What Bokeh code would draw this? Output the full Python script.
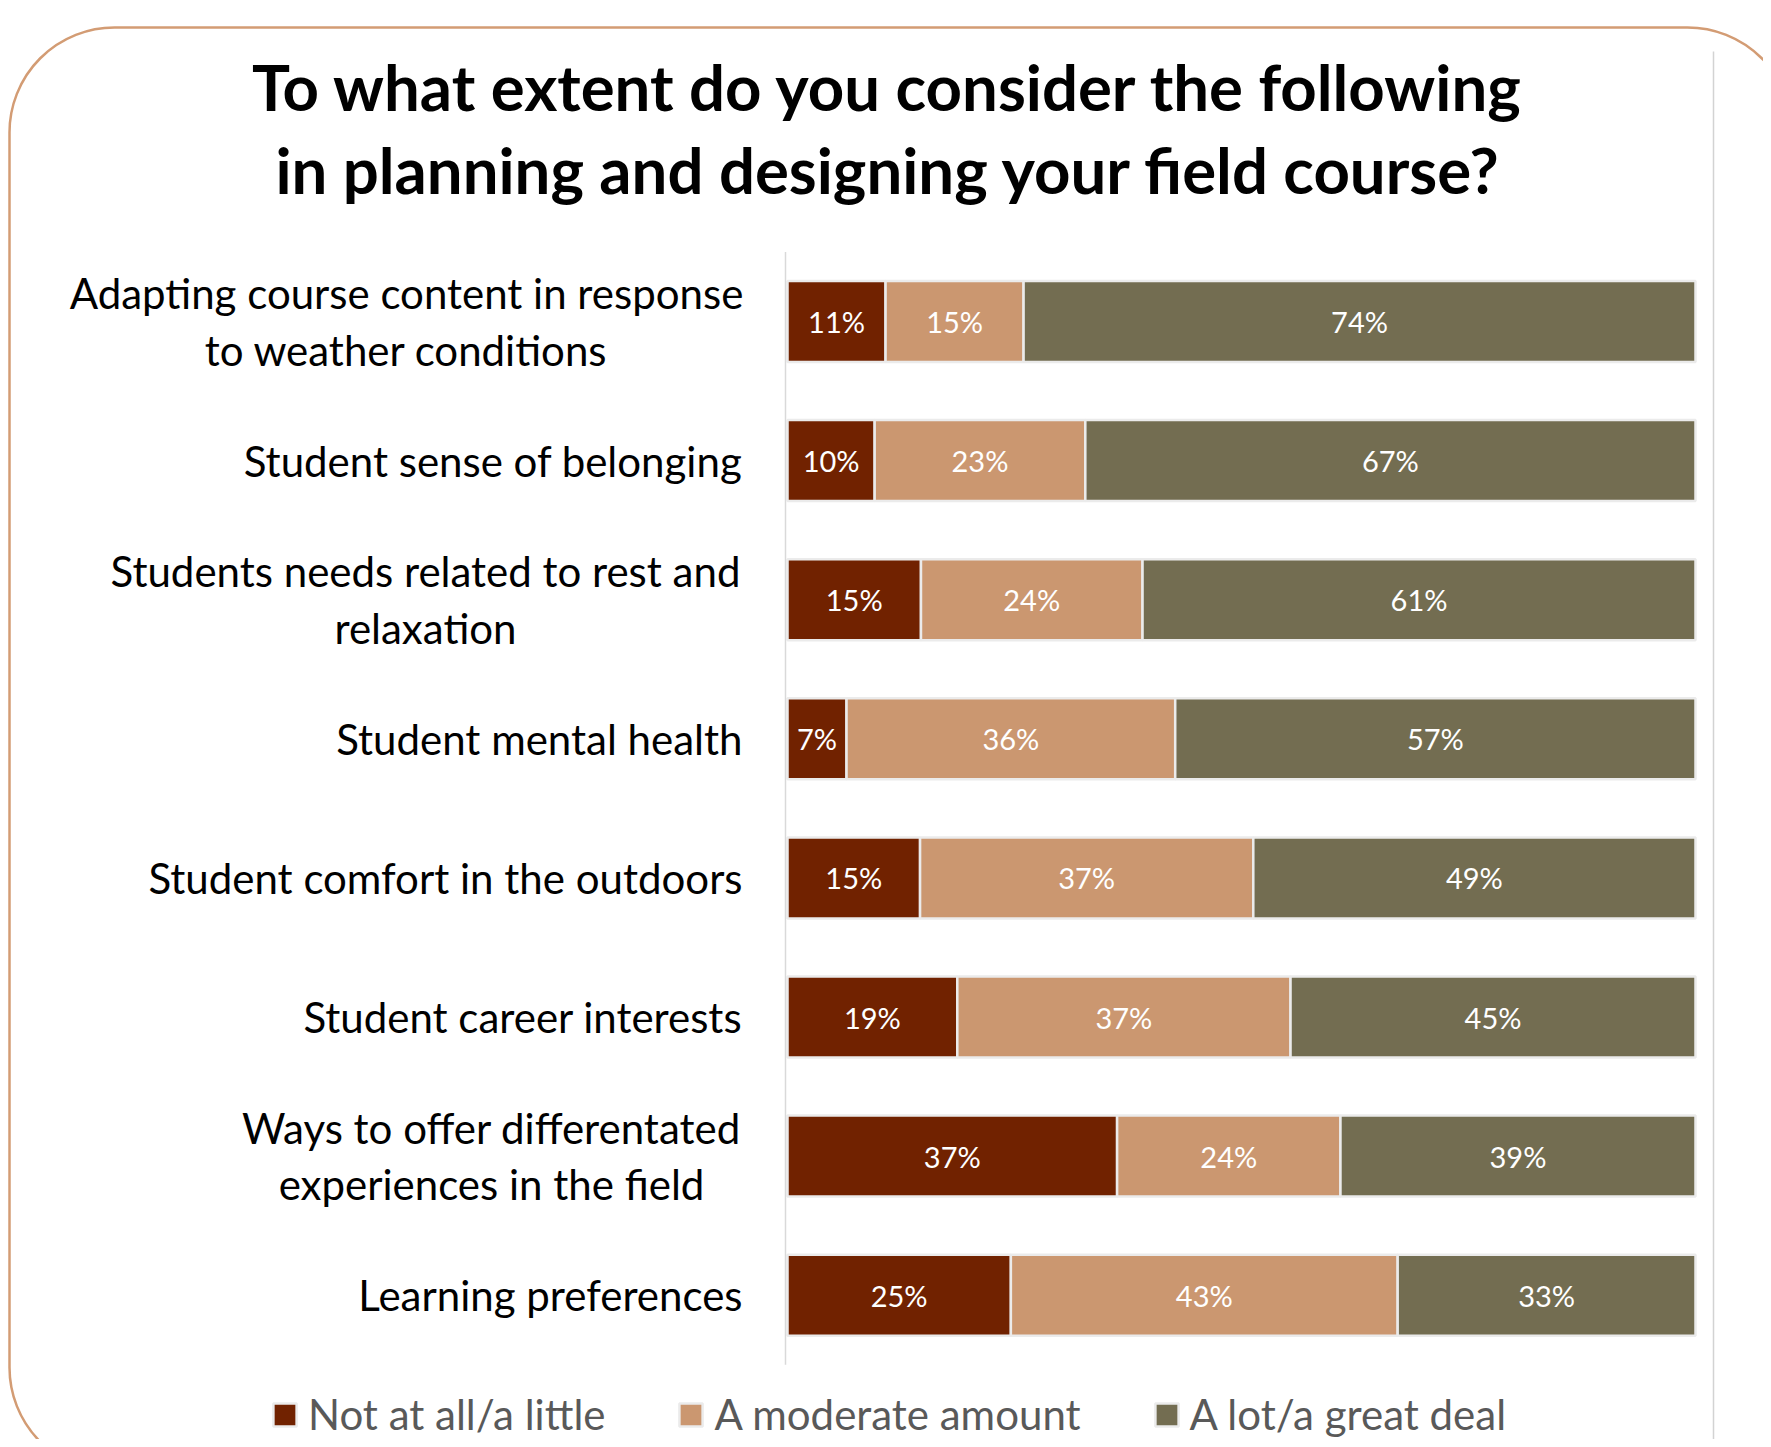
from bokeh.plotting import figure
from bokeh.models import (ColumnDataSource, Range1d, LabelSet, Label, Legend, LegendItem,
                          BoxAnnotation)
from bokeh.core.properties import value
from bokeh.embed import file_html
from bokeh.resources import INLINE

# ---------------- data ----------------
categories = [
    "Adapting course content in response\nto weather conditions",
    "Student sense of belonging",
    "Students needs related to rest and\nrelaxation",
    "Student mental health",
    "Student comfort in the outdoors",
    "Student career interests",
    "Ways to offer differentated\nexperiences in the field",
    "Learning preferences",
]
series_names = ["Not at all/a little", "A moderate amount", "A lot/a great deal"]
not_at_all = [10.8, 9.6, 14.7, 6.5, 14.6, 18.7, 36.3, 24.6]
moderate = [15.2, 23.2, 24.4, 36.2, 36.7, 36.7, 24.6, 42.6]
great_deal = [74.0, 67.2, 60.9, 57.3, 48.7, 44.6, 39.1, 32.8]
labels_not = ["11%", "10%", "15%", "7%", "15%", "19%", "37%", "25%"]
labels_mod = ["15%", "23%", "24%", "36%", "37%", "37%", "24%", "43%"]
labels_great = ["74%", "67%", "61%", "57%", "49%", "45%", "39%", "33%"]
title_lines = ["To what extent do you consider the following",
               "in planning and designing your field course?"]

# ---------------- style / layout ----------------
colors = ["#712200", "#CB9770", "#736D51"]
W, H = 1763, 1439
PX0, PX100 = 787, 1695          # pixel of 0% and 100%
XS = (PX100 - PX0) / 100.0
ROW0, ROWSTEP = 321, 139.1      # pixel of first row centre, row spacing
FONT = "Lato"
LABEL_RIGHT_PX = 742            # right edge of category labels
LINE_PX = 56.5                  # line spacing of two-line labels
MULTILINE_CENTER_PX = {0: 406, 2: 425, 6: 491}   # centre of centred two-line labels


def dx(px):
    return (px - PX0) / XS


def dy(py):
    return (py - ROW0) / ROWSTEP


n = len(categories)
ys = list(range(n))

p = figure(width=W, height=H,
           x_range=Range1d(dx(0), dx(W)), y_range=Range1d(dy(H), dy(0)),
           x_axis_type=None, y_axis_type=None, min_border=0,
           toolbar_location=None, output_backend="svg",
           outline_line_color=None, background_fill_color="white",
           border_fill_color="white")

# rounded frame of the slide
frame_box = BoxAnnotation(left=dx(9), right=dx(1792), top=dy(27), bottom=dy(1472),
                          fill_color=None, fill_alpha=0, line_color="#D39C74",
                          line_alpha=1.0, line_width=2.5, border_radius=105)
p.add_layout(frame_box)

# right chart-area edge
p.segment(x0=[dx(1713)], y0=[dy(51)], x1=[dx(1713)], y1=[dy(H) + 1],
          line_color="#D3D3D3", line_width=1.5)

# stacked bars
src = ColumnDataSource(dict(y=ys, a=not_at_all, b=moderate, c=great_deal))
rends = p.hbar_stack(["a", "b", "c"], y="y", height=0.582, color=colors,
                     source=src, line_color="#EBEBEB", line_width=2.5)

# axis line
p.segment(x0=[dx(785)], y0=[-0.5], x1=[dx(785)], y1=[n - 0.5],
          line_color="#D9D9D9", line_width=1.5)

# value labels
xs_lab, ys_lab, txt_lab = [], [], []
for i in range(n):
    start = 0.0
    for vals, labs in ((not_at_all, labels_not), (moderate, labels_mod), (great_deal, labels_great)):
        xs_lab.append(start + vals[i] / 2.0)
        ys_lab.append(i)
        txt_lab.append(labs[i])
        start += vals[i]
lab_src = ColumnDataSource(dict(x=xs_lab, y=ys_lab, t=txt_lab))
p.add_layout(LabelSet(x="x", y="y", text="t", source=lab_src, text_align="center",
                      text_baseline="middle", text_color="white",
                      text_font=value(FONT), text_font_size="29px"))

# category labels: single-line right aligned, two-line blocks with centred lines
single = dict(x=[], y=[], t=[])
multi = dict(x=[], y=[], t=[])
for i, cat in enumerate(categories):
    lines = cat.split("\n")
    if len(lines) == 1:
        single["x"].append(dx(LABEL_RIGHT_PX))
        single["y"].append(i)
        single["t"].append(cat)
    else:
        for j, ln in enumerate(lines):
            off = (j - (len(lines) - 1) / 2.0) * LINE_PX / ROWSTEP
            multi["x"].append(dx(MULTILINE_CENTER_PX[i]))
            multi["y"].append(i + off)
            multi["t"].append(ln)
for data, align in ((single, "right"), (multi, "center")):
    p.add_layout(LabelSet(x="x", y="y", text="t", source=ColumnDataSource(data),
                          text_align=align, text_baseline="middle", text_color="#000000",
                          text_font=value(FONT), text_font_size="42px"))

# title
for k, line in enumerate(title_lines):
    p.add_layout(Label(x=dx(888), y=dy(86 + 83 * k), text=line, text_align="center",
                       text_baseline="alphabetic", text_font=FONT, text_font_style="bold",
                       text_font_size="63.5px", text_color="#000000"))

# legend
legend = Legend(items=[LegendItem(label=nm, renderers=[r]) for nm, r in zip(series_names, rends)],
                orientation="horizontal", location=(270, 0), glyph_width=29, glyph_height=29,
                label_standoff=9, spacing=71, padding=0, margin=0,
                border_line_color=None, background_fill_alpha=0,
                label_text_font=FONT, label_text_font_size="42px",
                label_text_color="#595959")
p.add_layout(legend)

open("out.html", "w").write(file_html(p, INLINE))
